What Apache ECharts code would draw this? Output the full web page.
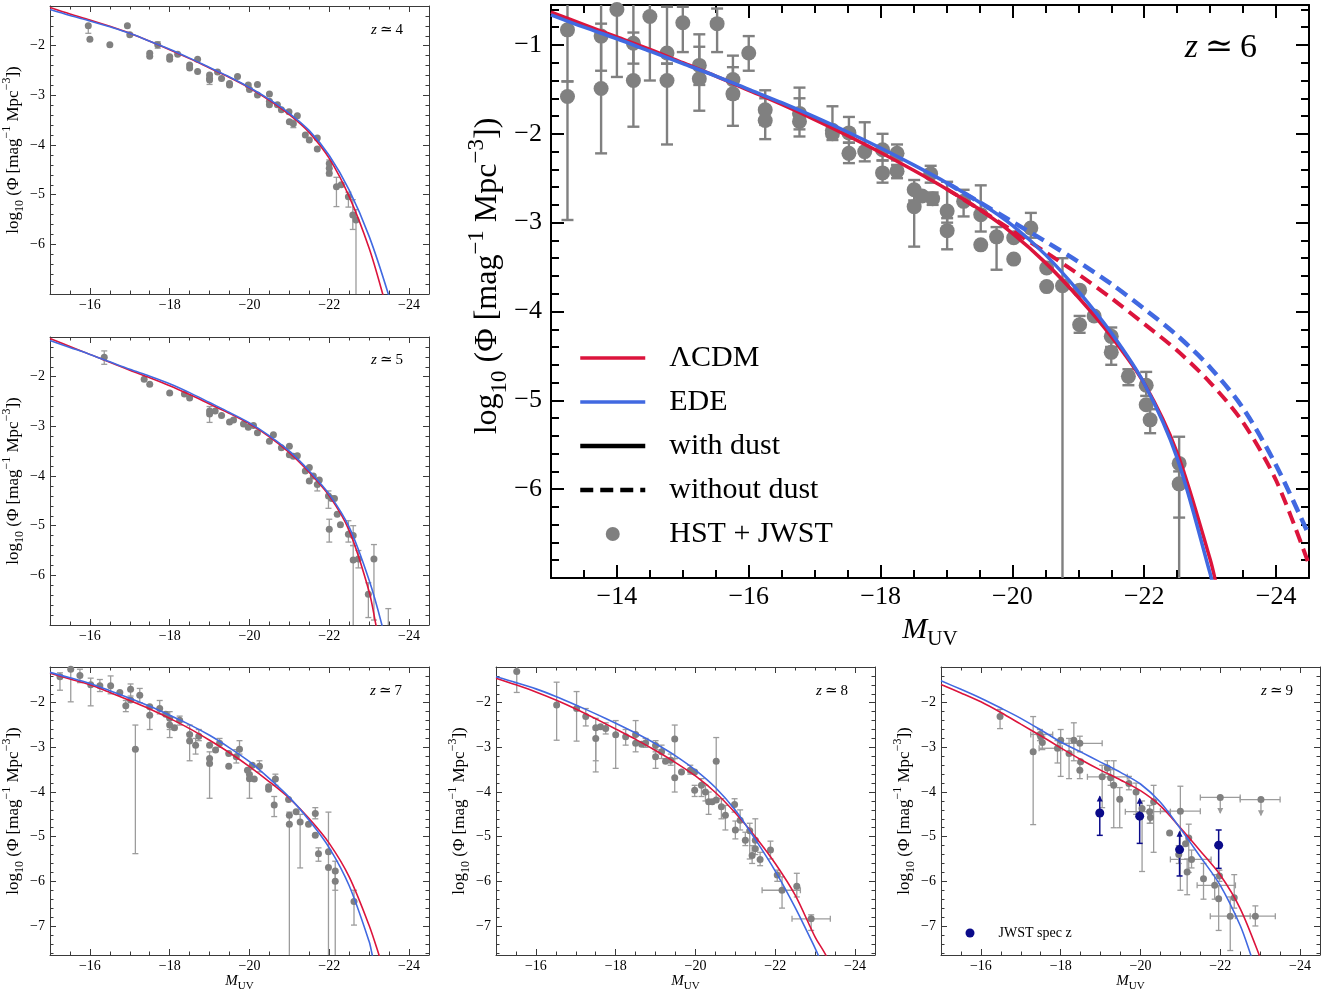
<!DOCTYPE html>
<html><head><meta charset="utf-8">
<script src="https://cdn.jsdelivr.net/npm/echarts@6/dist/echarts.min.js"></script>
<style>html,body{margin:0;padding:0;background:#fff}#c{width:1330px;height:993px}</style>
</head><body><div id="c"></div>
<script>
// ---------------- DATA ----------------
// tick labels
const xTicksSmall = [-24, -22, -20, -18, -16];
const xTicksBig = [-24, -22, -20, -18, -16, -14];
const yTicksTop = [-6, -5, -4, -3, -2];
const yTicksBottom = [-7, -6, -5, -4, -3, -2];
const yTicksBig = [-6, -5, -4, -3, -2, -1];

// model curves [M_UV, log10 Phi]
const z4LCDM = [[-15,-1.23],[-15.5,-1.36],[-16,-1.48],[-16.5,-1.61],[-17,-1.75],[-17.5,-1.91],[-18,-2.08],[-18.5,-2.26],[-19,-2.45],[-19.5,-2.64],[-20,-2.85],[-20.5,-3.10],[-21,-3.39],[-21.5,-3.75],[-22,-4.27],[-22.5,-5.04],[-23,-6.08],[-23.34,-7.0],[-23.5,-7.5]];
const z4EDE  = [[-15,-1.27],[-15.5,-1.39],[-16,-1.50],[-16.5,-1.62],[-17,-1.75],[-17.5,-1.91],[-18,-2.07],[-18.5,-2.25],[-19,-2.44],[-19.5,-2.63],[-20,-2.84],[-20.5,-3.08],[-21,-3.36],[-21.5,-3.71],[-22,-4.21],[-22.5,-4.91],[-23,-5.84],[-23.48,-7.0],[-23.6,-7.4]];
const z5LCDM = [[-15,-1.23],[-15.5,-1.39],[-16,-1.55],[-16.5,-1.71],[-17,-1.87],[-17.5,-2.02],[-18,-2.18],[-18.5,-2.36],[-19,-2.55],[-19.5,-2.74],[-20,-2.95],[-20.5,-3.21],[-21,-3.53],[-21.5,-3.93],[-22,-4.40],[-22.5,-5.10],[-23,-6.33],[-23.17,-7.0],[-23.3,-7.5]];
const z5EDE  = [[-15,-1.27],[-15.5,-1.41],[-16,-1.55],[-16.5,-1.70],[-17,-1.85],[-17.5,-1.99],[-18,-2.14],[-18.5,-2.32],[-19,-2.52],[-19.5,-2.72],[-20,-2.93],[-20.5,-3.19],[-21,-3.50],[-21.5,-3.90],[-22,-4.37],[-22.5,-5.03],[-23,-6.10],[-23.32,-7.0],[-23.45,-7.5]];
const z6LCDM = [[-13,-0.63],[-13.5,-0.77],[-14,-0.91],[-14.5,-1.05],[-15,-1.20],[-15.5,-1.35],[-16,-1.51],[-16.5,-1.67],[-17,-1.84],[-17.5,-2.02],[-18,-2.21],[-18.5,-2.41],[-19,-2.62],[-19.5,-2.85],[-20,-3.12],[-20.5,-3.45],[-21,-3.84],[-21.5,-4.28],[-22,-4.81],[-22.5,-5.59],[-23,-6.79],[-23.1,-7.1]];
const z6EDE  = [[-13,-0.66],[-13.5,-0.80],[-14,-0.93],[-14.5,-1.07],[-15,-1.21],[-15.5,-1.35],[-16,-1.50],[-16.5,-1.65],[-17,-1.81],[-17.5,-1.98],[-18,-2.16],[-18.5,-2.35],[-19,-2.55],[-19.5,-2.77],[-20,-3.03],[-20.5,-3.36],[-21,-3.77],[-21.5,-4.24],[-22,-4.81],[-22.5,-5.65],[-23,-6.95],[-23.05,-7.1]];
const z6LCDMnoDust = [[-19,-2.62],[-19.5,-2.85],[-20,-3.09],[-20.5,-3.33],[-21,-3.58],[-21.5,-3.85],[-22,-4.14],[-22.5,-4.44],[-23,-4.80],[-23.5,-5.25],[-24,-5.90],[-24.5,-6.85]];
const z6EDEnoDust  = [[-19,-2.55],[-19.5,-2.77],[-20,-2.99],[-20.5,-3.21],[-21,-3.44],[-21.5,-3.69],[-22,-3.97],[-22.5,-4.27],[-23,-4.63],[-23.5,-5.09],[-24,-5.73],[-24.5,-6.52]];
const z7LCDM = [[-15,-1.34],[-15.5,-1.47],[-16,-1.60],[-16.5,-1.77],[-17,-1.95],[-17.5,-2.14],[-18,-2.35],[-18.5,-2.58],[-19,-2.84],[-19.5,-3.12],[-20,-3.43],[-20.5,-3.77],[-21,-4.14],[-21.5,-4.60],[-22,-5.15],[-22.5,-5.90],[-23,-6.99],[-23.25,-7.66],[-23.4,-8.1]];
const z7EDE  = [[-15,-1.32],[-15.5,-1.44],[-16,-1.57],[-16.5,-1.73],[-17,-1.90],[-17.5,-2.08],[-18,-2.28],[-18.5,-2.49],[-19,-2.73],[-19.5,-3.01],[-20,-3.32],[-20.5,-3.70],[-21,-4.12],[-21.5,-4.64],[-22,-5.25],[-22.5,-6.10],[-23,-7.35],[-23.08,-7.66],[-23.2,-8.1]];
const z8LCDM = [[-15,-1.45],[-15.5,-1.60],[-16,-1.76],[-16.5,-1.94],[-17,-2.14],[-17.5,-2.36],[-18,-2.59],[-18.5,-2.82],[-19,-3.07],[-19.5,-3.34],[-20,-3.64],[-20.5,-4.01],[-21,-4.47],[-21.5,-5.00],[-22,-5.60],[-22.5,-6.31],[-23,-7.25],[-23.27,-7.66],[-23.4,-8.0]];
const z8EDE  = [[-15,-1.42],[-15.5,-1.55],[-16,-1.69],[-16.5,-1.86],[-17,-2.05],[-17.5,-2.25],[-18,-2.46],[-18.5,-2.68],[-19,-2.92],[-19.5,-3.19],[-20,-3.51],[-20.5,-3.90],[-21,-4.41],[-21.5,-5.06],[-22,-5.77],[-22.5,-6.59],[-23,-7.50],[-23.08,-7.66],[-23.2,-8.0]];
const z9LCDM = [[-15,-1.59],[-15.5,-1.78],[-16,-1.98],[-16.5,-2.22],[-17,-2.48],[-17.5,-2.74],[-18,-3.01],[-18.5,-3.27],[-19,-3.51],[-19.5,-3.73],[-20,-3.97],[-20.5,-4.31],[-21,-4.80],[-21.5,-5.32],[-22,-5.86],[-22.5,-6.61],[-22.98,-7.66],[-23.1,-8.0]];
const z9EDE  = [[-15,-1.51],[-15.5,-1.70],[-16,-1.90],[-16.5,-2.12],[-17,-2.35],[-17.5,-2.61],[-18,-2.88],[-18.5,-3.10],[-19,-3.33],[-19.5,-3.56],[-20,-3.82],[-20.5,-4.23],[-21,-4.82],[-21.5,-5.45],[-22,-6.09],[-22.5,-6.99],[-22.77,-7.66],[-22.9,-8.0]];

// data points [M_UV, log10 Phi, errLow, errHigh, xErrLow, xErrHigh, limit(1 up / -1 down)]
const z4Points = [[-15.96,-1.60,-1.75],[-16.0,-1.87],[-16.5,-1.98],[-16.94,-1.60],[-17.0,-1.78],[-17.7,-1.98,-2.05,-1.92],[-17.5,-2.15],[-17.5,-2.21],[-18.0,-2.22],[-18.0,-2.27],[-18.2,-2.17],[-18.5,-2.39],[-18.5,-2.45],[-18.7,-2.27],[-18.7,-2.52],[-19.0,-2.59],[-19.0,-2.66],[-19.0,-2.69,-2.78,-2.6],[-19.2,-2.53],[-19.3,-2.66],[-19.5,-2.76],[-19.5,-2.79],[-19.7,-2.62],[-19.97,-2.79],[-20.0,-2.88],[-20.2,-2.78],[-20.2,-2.99],[-20.5,-2.97],[-20.5,-3.12],[-20.5,-3.19],[-20.7,-3.19],[-20.8,-3.29],[-20.99,-3.33],[-21.0,-3.53],[-21.1,-3.57,-3.65,-3.5],[-21.2,-3.41],[-21.4,-3.80],[-21.5,-3.90],[-21.7,-3.86],[-21.7,-4.08],[-22.0,-4.37],[-22.0,-4.47],[-22.0,-4.57,-4.62,-4.3],[-22.18,-4.84,-5.24,-4.65],[-22.3,-4.80],[-22.48,-5.04,-5.25,-4.95],[-22.59,-5.41,-5.7,-5.1],[-22.67,-5.51,-7.5,-5.3]];
const z5Points = [[-16.36,-1.61,-1.75,-1.48],[-17.36,-2.05],[-17.5,-2.15],[-18.0,-2.33],[-18.37,-2.35],[-18.5,-2.43],[-19.0,-2.69],[-19.0,-2.75,-2.92,-2.6],[-19.14,-2.69],[-19.3,-2.78],[-19.5,-2.91],[-19.6,-2.87],[-19.85,-2.95],[-19.97,-3.02],[-20.1,-2.98],[-20.2,-3.13],[-20.5,-3.30],[-20.6,-3.17],[-20.8,-3.43],[-21.0,-3.40],[-21.0,-3.57],[-21.1,-3.60],[-21.2,-3.59],[-21.4,-3.90],[-21.5,-3.83],[-21.5,-4.10],[-21.6,-4.00],[-21.7,-4.17,-4.3,-4.05],[-21.75,-4.08],[-21.98,-4.40,-4.65,-4.3],[-22.06,-4.45],[-22.13,-4.45],[-22.0,-5.07,-5.33,-4.87],[-22.2,-4.77],[-22.28,-4.98],[-22.48,-5.17,-5.33,-4.9],[-22.6,-5.20,-5.4,-5.0],[-22.6,-5.69,-7.5,-5.4],[-22.73,-5.67,-5.85,-5.5],[-22.98,-6.38,-6.85,-6.15],[-23.12,-5.67,-6.9,-5.38],[-23.48,-7.3,-7.6,-6.67]];
const z6Points = [[-13.25,-0.83,-1.41,-0.3],[-13.25,-1.58,-2.97,-1.41],[-13.76,-0.90,-1.29,-0.3],[-13.76,-1.49,-2.22,-0.76],[-14.0,-0.60,-1.36,-0.2],[-14.25,-0.98,-1.21,-0.3],[-14.25,-1.40,-1.92,-0.86],[-14.5,-0.68,-1.40,-0.2],[-14.76,-1.09,-1.21,-0.57],[-14.76,-1.40,-2.12,-1.21],[-15.0,-0.75,-1.08,-0.57],[-15.25,-1.23,-1.45,-0.88],[-15.25,-1.38,-1.74,-1.02],[-15.52,-0.76,-1.08,-0.59],[-15.76,-1.39,-1.6,-1.12],[-15.76,-1.55,-1.91,-1.25],[-16.0,-1.09,-1.29,-0.90],[-16.25,-1.73,-1.9,-1.51],[-16.25,-1.85,-2.06,-1.6],[-16.77,-1.77,-1.95,-1.48],[-16.77,-1.86,-2.03,-1.6],[-17.27,-1.96,-2.07,-1.69],[-17.27,-2.0],[-17.52,-1.99,-2.1,-1.81],[-17.52,-2.22,-2.33,-2.1],[-17.76,-2.20,-2.31,-1.87],[-18.03,-2.18,-2.3,-2.0],[-18.03,-2.44,-2.55,-2.3],[-18.25,-2.22,-2.3,-2.12],[-18.25,-2.42,-2.5,-2.35],[-18.51,-2.63,-2.75,-2.52],[-18.51,-2.82,-3.27,-2.6],[-18.63,-2.70],[-18.76,-2.45,-2.55,-2.36],[-18.79,-2.73,-2.8,-2.66],[-19.01,-2.87,-3.0,-2.54],[-19.01,-3.09,-3.30,-2.95],[-19.26,-2.76,-2.93,-2.63],[-19.52,-2.91,-3.1,-2.58],[-19.52,-3.25],[-19.76,-3.16,-3.53,-3.05],[-20.02,-3.17],[-20.02,-3.41],[-20.28,-3.06,-3.17,-2.89],[-20.52,-3.51],[-20.52,-3.72],[-20.76,-3.71,-7.5,-3.40],[-21.02,-3.76],[-21.02,-4.15,-4.24,-4.05],[-21.24,-4.05],[-21.5,-4.28,-4.4,-4.18],[-21.5,-4.46,-4.60,-4.4],[-21.76,-4.73,-4.83,-4.65],[-22.03,-4.83,-4.95,-4.68],[-22.03,-5.05],[-22.09,-5.22,-5.37,-5.1],[-22.53,-5.71,-6.32,-5.41],[-22.53,-5.94,-7.5,-5.8]];
const z7Points = [[-15.25,-1.42,-1.72,-1.33],[-15.52,-1.25,-1.98,-1.1],[-15.75,-1.39,-1.55,-1.25],[-16.02,-1.60,-2.07,-1.45],[-16.25,-1.62,-1.75,-1.48],[-16.52,-1.62,-1.8,-1.4],[-16.75,-1.77],[-16.9,-2.07,-2.2,-1.95],[-17.02,-1.70,-1.85,-1.58],[-17.02,-1.94],[-17.14,-3.04,-5.38,-2.50],[-17.25,-1.83,-2.0,-1.68],[-17.5,-2.09],[-17.5,-2.28,-2.6,-2.1],[-17.75,-2.13,-2.25,-1.95],[-17.9,-2.26],[-18.0,-2.35,-2.6,-2.2],[-18.0,-2.50,-2.78,-2.35],[-18.12,-2.56],[-18.25,-2.39,-2.5,-2.3],[-18.5,-2.71,-2.85,-2.5],[-18.5,-2.86,-3.3,-2.7],[-18.65,-2.95,-3.15,-2.8],[-18.73,-2.75,-2.85,-2.6],[-19.0,-2.95],[-19.0,-3.25],[-19.0,-3.36,-4.14,-3.1],[-19.15,-3.06],[-19.25,-2.91,-3.0,-2.8],[-19.48,-3.14],[-19.48,-3.42],[-19.67,-3.21,-3.35,-3.05],[-19.75,-3.04,-3.15,-2.85],[-19.95,-3.51],[-20.0,-3.61],[-20.0,-3.70,-4.14,-3.5],[-20.07,-3.40],[-20.12,-3.71],[-20.25,-3.42,-3.55,-3.3],[-20.48,-3.88],[-20.48,-3.94],[-20.65,-3.71,-3.85,-3.6],[-20.62,-4.29,-4.55,-4.1],[-20.98,-4.17],[-21.0,-4.52],[-21.0,-4.72,-8,-4.45],[-21.17,-4.44],[-21.27,-4.67,-5.7,-4.5],[-21.48,-4.72],[-21.65,-4.48,-4.6,-4.35],[-21.65,-4.97],[-21.73,-5.38,-5.55,-5.25],[-21.98,-5.34,-8,-4.45],[-21.98,-5.69],[-22.15,-5.77,-6.2,-5.55],[-22.15,-6.00,-8,-5.8],[-22.62,-6.45,-6.98,-6.2]];
const z8Points = [[-15.52,-1.30,-1.77,-1.1],[-16.52,-2.05,-2.84,-1.54],[-17.02,-2.13,-2.86,-1.75],[-17.25,-2.31,-2.52,-2.13],[-17.5,-2.56,-3.3,-2.35],[-17.5,-2.80,-3.55,-2.6],[-17.62,-2.54],[-17.75,-2.58,-2.7,-2.45],[-18.0,-2.72,-3.47,-2.4],[-18.25,-2.76,-2.95,-2.6],[-18.5,-2.71,-2.9,-2.4],[-18.5,-2.91,-3.1,-2.75],[-18.65,-2.93],[-18.75,-2.90,-3.0,-2.8],[-19.0,-2.96,-3.1,-2.85],[-19.0,-3.21,-3.47,-3.05],[-19.15,-3.10,-3.25,-2.95],[-19.25,-3.31],[-19.38,-3.29,-3.4,-3.15],[-19.48,-2.81,-3.25,-2.5],[-19.48,-3.68,-4.0,-3.25],[-19.65,-3.55],[-19.87,-3.51,-3.6,-3.4],[-19.98,-3.55],[-19.98,-3.96,-4.1,-3.85],[-20.15,-3.85,-4.1,-3.7],[-20.25,-4.00,-4.2,-3.85],[-20.33,-4.22,-4.5,-4.0],[-20.42,-4.22],[-20.52,-3.31,-4.16,-2.78],[-20.52,-4.18],[-20.65,-4.33,-4.6,-4.15],[-20.75,-4.52,-4.85,-4.3],[-20.98,-4.28,-4.45,-4.15],[-21.0,-4.85,-5.05,-4.65],[-21.12,-4.63,-4.85,-4.4],[-21.25,-5.08,-5.2,-4.9],[-21.36,-4.87,-5.5,-4.7],[-21.42,-5.42,-5.6,-5.2],[-21.5,-5.08,-5.3,-4.6],[-21.5,-5.27,-5.4,-5.1],[-21.62,-5.51,-5.65,-5.35],[-21.88,-5.30,-5.5,-5.1],[-22.05,-5.86,-6.0,-5.75],[-22.17,-6.20,-6.6,-5.9,-21.67,-22.63],[-22.54,-6.11,-6.35,-5.82],[-22.9,-6.84,-7.1,-6.75,-22.42,-23.38]];
const z9Points = [[-16.48,-2.31,-2.58,-2.15],[-17.31,-3.10,-4.73,-2.31],[-17.48,-2.71,-2.85,-2.6,-17.25,-17.8],[-17.5,-2.76],[-17.54,-2.89,-3.05,-2.75],[-17.92,-3.02,-3.35,-2.85,-17.46,-18.04],[-18.0,-2.84,-3.65,-2.6],[-18.21,-3.14,-3.7,-2.8],[-18.33,-2.84,-3.3,-2.45],[-18.48,-2.91,-3.1,-2.75,-17.96,-19.04],[-18.5,-3.32],[-18.48,-3.51,-3.7,-3.35],[-19.04,-3.66,-4.35,-3.4,-18.67,-19.67],[-19.17,-3.46,-3.6,-3.3],[-19.25,-3.68,-3.85,-3.5],[-19.33,-3.85,-4.8,-3.3],[-19.48,-4.16,-4.8,-3.9],[-19.71,-3.81,-3.95,-3.65],[-19.89,-4.00,-4.5,-3.8],[-20.04,-4.37,-5.78,-4.2],[-20.23,-4.44,-4.7,-4.3,-19.62,-20.75],[-20.25,-4.57,-4.7,-4.4],[-20.33,-4.22,-5.35,-3.85],[-20.73,-4.92],[-21.0,-4.43,-6.2,-3.87,-20.5,-21.5],[-20.96,-5.40,-5.6,-5.2],[-21.13,-5.16],[-21.21,-5.03,-5.8,-4.72],[-21.17,-5.79,-6.3,-5.5],[-21.28,-5.51,-5.7,-5.3,-20.75,-21.77],[-21.58,-5.94,-6.4,-5.6],[-21.86,-6.09,-6.4,-5.85,-21.42,-22.38],[-21.96,-6.39,-7.1,-6.1],[-21.98,-5.88,-6.0,-5.75],[-22.35,-6.37,-6.6,-5.85],[-22.25,-6.78,-7.55,-6.35,-21.75,-22.75],[-22.88,-6.78,-7.0,-6.55,-22.38,-23.38],[-22.0,-4.12,-4.47,null,-21.5,-22.5,-1],[-23.02,-4.17,-4.52,null,-22.5,-23.5,-1]];
const z9SpecZ = [[-18.98,-4.47,-4.97,-4.10,null,null,1],[-19.98,-4.54,-5.15,-4.15,null,null,1],[-20.98,-5.29,-5.88,-4.89,null,null,1],[-21.96,-5.19,-5.71,-4.85]];

// ---------------- STYLE / LAYOUT ----------------
const FONT = "'Liberation Serif','Times New Roman','DejaVu Serif',serif";
const RED = '#DC143C', BLUE = '#4169E1', GRAY = '#808080', ERRG = '#9c9c9c', NAVY = '#0b0b8a';
const DASH = [13, 7];
const fmt = v => (v < 0 ? '\u2212' : '') + Math.abs(v);
function steps(a, b, s) { const o = []; const n = Math.round((b - a) / s); for (let i = 0; i <= n; i++) o.push(+(a + i * s).toFixed(2)); return o; }

const SMALL = { fs: 14, majLen: 6, minLen: 3.5, frame: '#3a3a3a', fw: 1, tw: 1, xMargin: 4, yMargin: 5,
  nameFs: 17, xNameFs: 15, yNameGap: 18, xNameGap: 15, lineW: 1.6, sym: 7, cap: 3, errW: 1.3, errC: ERRG };
const BIG = { fs: 26, majLen: 13, minLen: 8, frame: '#000', fw: 2, tw: 2, xMargin: 6, yMargin: 9,
  nameFs: 32, xNameFs: 30, yNameGap: 42, xNameGap: 27, lineW: 3.5, sym: 15, cap: 6, errW: 2.4, errC: GRAY };

const panels = [
  { id: 'z4', label: '4', S: SMALL, grid: { left: 50, top: 6, width: 379, height: 288 }, xr: [-24.5, -15], yr: [-7, -1.2], xT: xTicksSmall, yT: yTicksTop, xName: false, lab: [403, 30],
    pts: z4Points, lcdm: z4LCDM, ede: z4EDE },
  { id: 'z5', label: '5', S: SMALL, grid: { left: 50, top: 337, width: 379, height: 288 }, xr: [-24.5, -15], yr: [-7, -1.2], xT: xTicksSmall, yT: yTicksTop, xName: false, lab: [403, 360],
    pts: z5Points, lcdm: z5LCDM, ede: z5EDE },
  { id: 'z6', label: '6', S: BIG, grid: { left: 551, top: 5, width: 758, height: 573 }, xr: [-24.5, -13], yr: [-7, -0.55], xT: xTicksBig, yT: yTicksBig, xName: true, lab: [1257, 48],
    pts: z6Points, lcdm: z6LCDM, ede: z6EDE },
  { id: 'z7', label: '7', S: SMALL, grid: { left: 50, top: 667, width: 379, height: 288 }, xr: [-24.5, -15], yr: [-7.65, -1.2], xT: xTicksSmall, yT: yTicksBottom, xName: true, lab: [402, 691],
    pts: z7Points, lcdm: z7LCDM, ede: z7EDE },
  { id: 'z8', label: '8', S: SMALL, grid: { left: 496, top: 667, width: 379, height: 288 }, xr: [-24.5, -15], yr: [-7.65, -1.2], xT: xTicksSmall, yT: yTicksBottom, xName: true, lab: [848, 691],
    pts: z8Points, lcdm: z8LCDM, ede: z8EDE },
  { id: 'z9', label: '9', S: SMALL, grid: { left: 941, top: 667, width: 379, height: 288 }, xr: [-24.5, -15], yr: [-7.65, -1.2], xT: xTicksSmall, yT: yTicksBottom, xName: true, lab: [1293, 691],
    pts: z9Points, lcdm: z9LCDM, ede: z9EDE }
];

function yNameRich(fs) {
  return {
    t: { fontFamily: FONT, fontSize: fs, lineHeight: Math.round(fs * 1.45), color: '#000', fill: '#000' },
    s: { fontFamily: FONT, fontSize: Math.round(fs * 0.72), lineHeight: Math.round(fs * 0.78), verticalAlign: 'bottom', color: '#000', fill: '#000' },
    p: { fontFamily: FONT, fontSize: Math.round(fs * 0.72), lineHeight: Math.round(fs * 0.78), verticalAlign: 'top', color: '#000', fill: '#000' }
  };
}
const Y_NAME = '{t|log}{s|10}{t| (\u03A6 [mag}{p|\u22121}{t| Mpc}{p|\u22123}{t|])}';
const X_NAME = '{m|M}{s|UV}';
function xNameRich(fs) {
  return {
    m: { fontFamily: FONT, fontStyle: 'italic', fontSize: fs, lineHeight: Math.round(fs * 1.35), color: '#000' },
    s: { fontFamily: FONT, fontSize: Math.round(fs * 0.7), lineHeight: Math.round(fs * 0.85), verticalAlign: 'bottom', color: '#000' }
  };
}

const grids = [], xAxes = [], yAxes = [], series = [], graphics = [];

panels.forEach((P, gi) => {
  const S = P.S;
  const big = P.id === 'z6';
  grids.push(Object.assign({ show: false, containLabel: false }, P.grid));
  const lineSt = { color: S.frame, width: S.fw };
  const tickSt = { color: S.frame, width: S.tw };
  const xMinor = steps(P.xr[0], P.xr[1], 0.5);
  const yStart = +(Math.ceil(P.yr[0] / 0.2 - 1e-9) * 0.2).toFixed(2);
  const yEnd = +(Math.floor(P.yr[1] / 0.2 + 1e-9) * 0.2).toFixed(2);
  const yMinor = steps(yStart, yEnd, 0.2);
  const baseX = { gridIndex: gi, type: 'value', min: P.xr[0], max: P.xr[1], inverse: true, splitLine: { show: false }, silent: true };
  const baseY = { gridIndex: gi, type: 'value', min: P.yr[0], max: P.yr[1], splitLine: { show: false }, silent: true };
  ['bottom', 'top'].forEach((pos, k) => {
    const ax = Object.assign({}, baseX, {
      position: pos,
      axisLine: { show: true, onZero: false, lineStyle: lineSt },
      axisTick: { show: true, inside: true, length: S.majLen, customValues: P.xT, lineStyle: tickSt },
      axisLabel: k === 0 ? { show: true, customValues: P.xT, formatter: fmt, fontFamily: FONT, fontSize: S.fs, color: '#000', margin: S.xMargin } : { show: false }
    });
    if (k === 0 && P.xName) {
      Object.assign(ax, { name: X_NAME, nameLocation: 'middle', nameGap: S.xNameGap, nameTextStyle: { rich: xNameRich(S.xNameFs) } });
    }
    xAxes.push(ax);
    xAxes.push(Object.assign({}, baseX, {
      position: pos, axisLine: { show: false },
      axisTick: { show: true, inside: true, length: S.minLen, customValues: xMinor, lineStyle: tickSt },
      axisLabel: { show: false }
    }));
  });
  ['left', 'right'].forEach((pos, k) => {
    const ax = Object.assign({}, baseY, {
      position: pos,
      axisLine: { show: true, onZero: false, lineStyle: lineSt },
      axisTick: { show: true, inside: true, length: S.majLen, customValues: P.yT, lineStyle: tickSt },
      axisLabel: k === 0 ? { show: true, customValues: P.yT, formatter: fmt, fontFamily: FONT, fontSize: S.fs, color: '#000', margin: S.yMargin } : { show: false }
    });
    if (k === 0 && !big) {
      Object.assign(ax, { name: Y_NAME, nameLocation: 'middle', nameRotate: 90, nameGap: S.yNameGap, nameTextStyle: { rich: yNameRich(S.nameFs) } });
    }
    yAxes.push(ax);
    yAxes.push(Object.assign({}, baseY, {
      position: pos, axisLine: { show: false },
      axisTick: { show: true, inside: true, length: S.minLen, customValues: yMinor, lineStyle: tickSt },
      axisLabel: { show: false }
    }));
  });

  const xi = gi * 4, yi = gi * 4;
  addErrors(P.pts, xi, yi, S.errC, S.cap, S.errW);
  series.push({ type: 'scatter', name: big ? 'HST + JWST' : 'HST + JWST ' + P.id, xAxisIndex: xi, yAxisIndex: yi,
    data: P.pts.map(p => [p[0], p[1]]), symbol: 'circle', symbolSize: S.sym, itemStyle: { color: GRAY, opacity: 1 }, z: 3, silent: true, clip: true });
  if (P.id === 'z9') {
    addErrors(z9SpecZ, xi, yi, NAVY, 3, 1.5);
    series.push({ type: 'scatter', name: 'JWST spec z', xAxisIndex: xi, yAxisIndex: yi,
      data: z9SpecZ.map(p => [p[0], p[1]]), symbol: 'circle', symbolSize: 9, itemStyle: { color: NAVY, opacity: 1 }, z: 6, silent: true });
  }
  const mkLine = (name, data, color, type, w, z) => ({
    type: 'line', name, xAxisIndex: xi, yAxisIndex: yi, data, symbol: 'none', showSymbol: false,
    smooth: 0.3, clip: true, silent: true, z,
    lineStyle: { color, width: w, type }, itemStyle: { color }
  });
  series.push(mkLine(big ? '\u039BCDM' : 'LCDM ' + P.id, P.lcdm, RED, 'solid', S.lineW, 4));
  series.push(mkLine(big ? 'EDE' : 'EDE ' + P.id, P.ede, BLUE, 'solid', S.lineW, 5));
  if (big) {
    series.push(mkLine('LCDM nodust', z6LCDMnoDust, RED, DASH, 4, 4));
    series.push(mkLine('EDE nodust', z6EDEnoDust, BLUE, DASH, 4.5, 5));
    series.push(mkLine('with dust', [], '#000', 'solid', 4.5, 1));
    series.push(mkLine('without dust', [], '#000', DASH, 4.5, 1));
  }
  const lfs = big ? 34 : 15;
  graphics.push({ type: 'text', x: P.lab[0], y: P.lab[1], silent: true,
    style: { text: '{i|z}\u2009\u2243\u2009' + P.label, align: 'right', verticalAlign: 'middle',
      fontFamily: FONT, fontSize: lfs, fill: '#000',
      rich: { i: { fontFamily: FONT, fontStyle: 'italic', fontSize: lfs, fill: '#000' } } } });
});

// big-panel y-axis title (placed slightly above the axis centre, as in the original)
graphics.push({ type: 'text', x: 488, y: 276, rotation: Math.PI / 2, silent: true,
  style: { text: Y_NAME, align: 'center', verticalAlign: 'middle', fontFamily: FONT, fontSize: 32, fill: '#000', rich: yNameRich(32) } });

function addErrors(pts, xi, yi, color, cap, lw) {
  const data = pts.map(p => { const q = p.slice(); while (q.length < 7) q.push(null); return q; });
  series.push({
    type: 'custom', xAxisIndex: xi, yAxisIndex: yi, clip: true, silent: true, z: 2,
    dimensions: ['x', 'y', 'lo', 'hi', 'xl', 'xh', 'lim'], encode: { x: 0, y: 1 },
    data,
    renderItem: function (params, api) {
      const ok = v => typeof v === 'number' && isFinite(v);
      const x = api.value(0), y = api.value(1), lo = api.value(2), hi = api.value(3), xl = api.value(4), xh = api.value(5), lim = api.value(6);
      const c = api.coord([x, y]);
      const st = { stroke: color, lineWidth: lw, fill: null };
      const kids = [];
      const L = (x1, y1, x2, y2) => kids.push({ type: 'line', shape: { x1, y1, x2, y2 }, style: st });
      if (ok(lo) || ok(hi)) {
        const yl = ok(lo) ? api.coord([x, lo])[1] : c[1];
        const yh = ok(hi) ? api.coord([x, hi])[1] : c[1];
        L(c[0], yl, c[0], yh);
        if (ok(lo)) {
          if (lim === -1) kids.push({ type: 'polygon', shape: { points: [[c[0] - 3, yl - 5], [c[0] + 3, yl - 5], [c[0], yl + 1]] }, style: { fill: color } });
          else L(c[0] - cap, yl, c[0] + cap, yl);
        }
        if (ok(hi)) {
          if (lim === 1) kids.push({ type: 'polygon', shape: { points: [[c[0] - 3, yh + 5], [c[0] + 3, yh + 5], [c[0], yh - 1]] }, style: { fill: color } });
          else L(c[0] - cap, yh, c[0] + cap, yh);
        }
      }
      if (ok(xl) && ok(xh)) {
        const a = api.coord([xl, y])[0], b = api.coord([xh, y])[0];
        L(a, c[1], b, c[1]);
        L(a, c[1] - cap, a, c[1] + cap);
        L(b, c[1] - cap, b, c[1] + cap);
      }
      return { type: 'group', children: kids };
    }
  });
}

const hideSym = { opacity: 0 };
const option = {
  animation: false,
  backgroundColor: '#fff',
  grid: grids, xAxis: xAxes, yAxis: yAxes, series,
  legend: [
    { left: 573, top: 338, orient: 'vertical', itemWidth: 65, itemHeight: 14, itemGap: 14, selectedMode: false,
      data: [
        { name: '\u039BCDM', itemStyle: hideSym, lineStyle: { width: 3.5, color: RED } },
        { name: 'EDE', itemStyle: hideSym, lineStyle: { width: 3.5, color: BLUE } },
        { name: 'with dust', itemStyle: hideSym, lineStyle: { width: 4.5, color: '#000' } },
        { name: 'without dust', itemStyle: hideSym, lineStyle: { width: 4.5, color: '#000', type: DASH } },
        { name: 'HST + JWST' }],
      formatter: n => '{g|}' + n,
      textStyle: { fontFamily: FONT, fontSize: 30, lineHeight: 30, color: '#000', rich: { g: { width: 19, lineHeight: 30 } } } },
    { left: 960.5, top: 921, orient: 'vertical', itemWidth: 9, itemHeight: 9, selectedMode: false,
      data: ['JWST spec z'], formatter: n => '{g|}' + n,
      textStyle: { fontFamily: FONT, fontSize: 14, color: '#000', rich: { g: { width: 19 } } } }
  ],
  graphic: graphics
};

const chart = echarts.init(document.getElementById('c'), null, { renderer: 'canvas', width: 1330, height: 993 });
chart.setOption(option);
</script></body></html>
